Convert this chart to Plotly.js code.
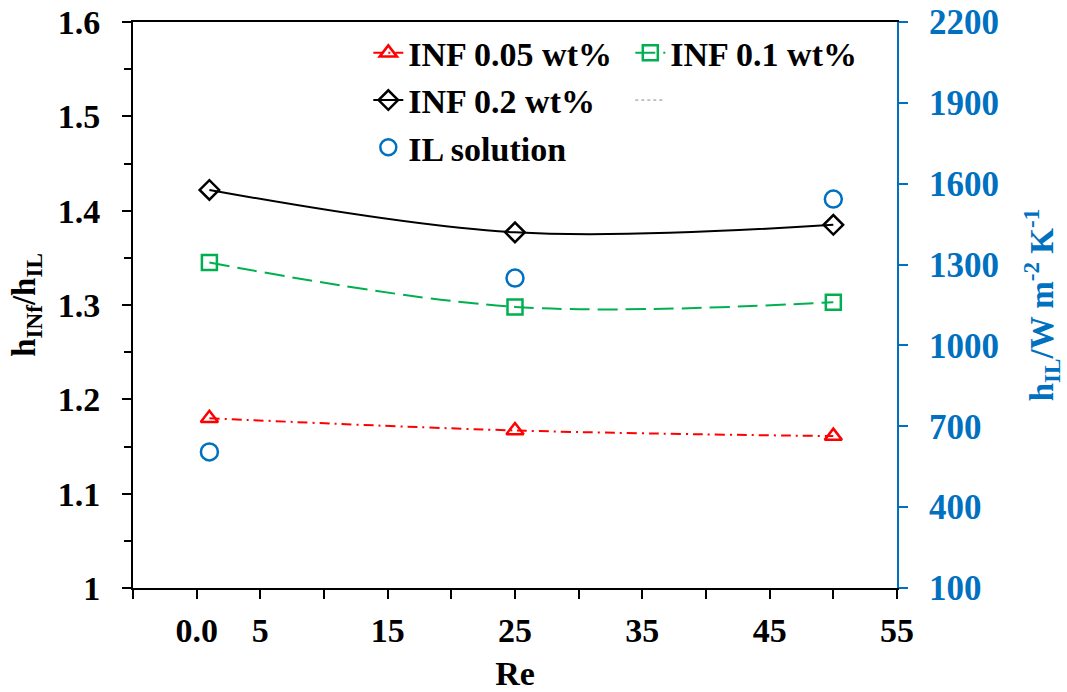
<!DOCTYPE html>
<html>
<head>
<meta charset="utf-8">
<script src="https://cdn.plot.ly/plotly-3.0.1.min.js"></script>
<style>html,body{margin:0;padding:0;background:#fff;}#chart{width:1067px;height:692px;}</style>
</head>
<body>
<div id="chart"></div>
<script>
const re = [1, 25, 50];
const inf005 = [1.180, 1.167, 1.161];
const inf01 = [1.345, 1.298, 1.303];
const inf02 = [1.422, 1.377, 1.385];
const ilSolution = [605, 1250, 1543];
const xTickVals = [0, 5, 15, 25, 35, 45, 55];
const xTickText = ['0.0', '5', '15', '25', '35', '45', '55'];
const xMinorVals = [-5, 10, 20, 30, 40, 50];
const yTickVals = [1, 1.1, 1.2, 1.3, 1.4, 1.5, 1.6];
const yTickText = ['1', '1.1', '1.2', '1.3', '1.4', '1.5', '1.6'];
const yMinorVals = [1.05, 1.15, 1.25, 1.35, 1.45, 1.55];
const y2TickVals = [100, 400, 700, 1000, 1300, 1600, 1900, 2200];
const y2TickText = ['100', '400', '700', '1000', '1300', '1600', '1900', '2200'];

const FONT = 'Liberation Serif';
const BLUE = '#0070C0';
const bold = a => a.map(t => '<b>' + t + '</b>');

const traces = [
  {x: re, y: inf005, name: '<b>INF 0.05 wt%</b>', mode: 'lines+markers',
   line: {color: '#FF0000', width: 2, dash: '10px,5px,2px,5px', shape: 'spline'},
   marker: {symbol: 'triangle-up-open', size: 15, color: '#FF0000', line: {width: 2.5}}},
  {x: re, y: inf01, name: '<b>INF 0.1 wt%</b>', mode: 'lines+markers',
   line: {color: '#00B050', width: 2, dash: '20px,8px', shape: 'spline'},
   marker: {symbol: 'square-open', size: 15, color: '#00B050', line: {width: 2.5}}},
  {x: re, y: inf02, name: '<b>INF 0.2 wt%</b>', mode: 'lines+markers',
   line: {color: '#000000', width: 2, shape: 'spline'},
   marker: {symbol: 'diamond-open', size: 15, color: '#000000', line: {width: 2.5}}},
  {x: [null], y: [null], name: ' ', mode: 'lines',
   line: {color: '#888888', width: 1, dash: 'dot'}},
  {x: re, y: ilSolution, name: '<b>IL solution</b>', mode: 'markers', yaxis: 'y2',
   marker: {symbol: 'circle-open', size: 17, color: BLUE, line: {width: 2.5}}}
];

const layout = {
  width: 1067, height: 692,
  margin: {l: 133, r: 170, t: 22, b: 104},
  paper_bgcolor: '#ffffff', plot_bgcolor: '#ffffff',
  font: {family: FONT, size: 34, color: '#000'},
  showlegend: true,
  legend: {
    orientation: 'h', x: 0.308, y: 0.996, xanchor: 'left', yanchor: 'top',
    entrywidth: 217, tracegroupgap: 0, itemwidth: 30,
    font: {family: FONT, size: 34, color: '#000'}, bgcolor: 'rgba(0,0,0,0)'
  },
  xaxis: {
    range: [-5, 55], tickmode: 'array', tickvals: xTickVals, ticktext: bold(xTickText),
    ticks: 'outside', ticklen: 9, tickwidth: 2, tickcolor: '#000', ticklabelstandoff: 2,
    minor: {tickvals: xMinorVals, ticks: 'outside', ticklen: 9, tickwidth: 2, tickcolor: '#000'},
    showline: true, linecolor: '#000', linewidth: 2, mirror: true,
    showgrid: false, zeroline: false,
    tickfont: {family: FONT, size: 34, color: '#000'},
    title: {text: '<b>Re</b>', font: {family: FONT, size: 34, color: '#000'}, standoff: 24}
  },
  yaxis: {
    range: [1, 1.6], tickmode: 'array', tickvals: yTickVals, ticktext: bold(yTickText),
    ticks: 'outside', ticklen: 9, tickwidth: 2, tickcolor: '#000', ticklabelstandoff: 15,
    minor: {tickvals: yMinorVals, ticks: 'outside', ticklen: 7, tickwidth: 2, tickcolor: '#000'},
    showline: true, linecolor: '#000', linewidth: 2,
    showgrid: false, zeroline: false,
    tickfont: {family: FONT, size: 34, color: '#000'},
    title: {text: '<b>h<sub>INf</sub>/h<sub>IL</sub></b>', font: {family: FONT, size: 33, color: '#000'}, standoff: 12}
  },
  yaxis2: {
    overlaying: 'y', side: 'right', range: [100, 2200], tickmode: 'array', tickvals: y2TickVals, ticktext: bold(y2TickText),
    ticks: 'outside', ticklen: 9, tickwidth: 2, tickcolor: BLUE, ticklabelstandoff: 14,
    showline: true, linecolor: BLUE, linewidth: 2,
    showgrid: false, zeroline: false,
    tickfont: {family: FONT, size: 35, color: BLUE},
    title: {text: '<b>h<sub>IL</sub>/W m<sup>-2</sup> K<sup>-1</sup></b>', font: {family: FONT, size: 33, color: BLUE}, standoff: 32}
  }
};

Plotly.newPlot('chart', traces, layout, {displayModeBar: false, staticPlot: true});
</script>
</body>
</html>
